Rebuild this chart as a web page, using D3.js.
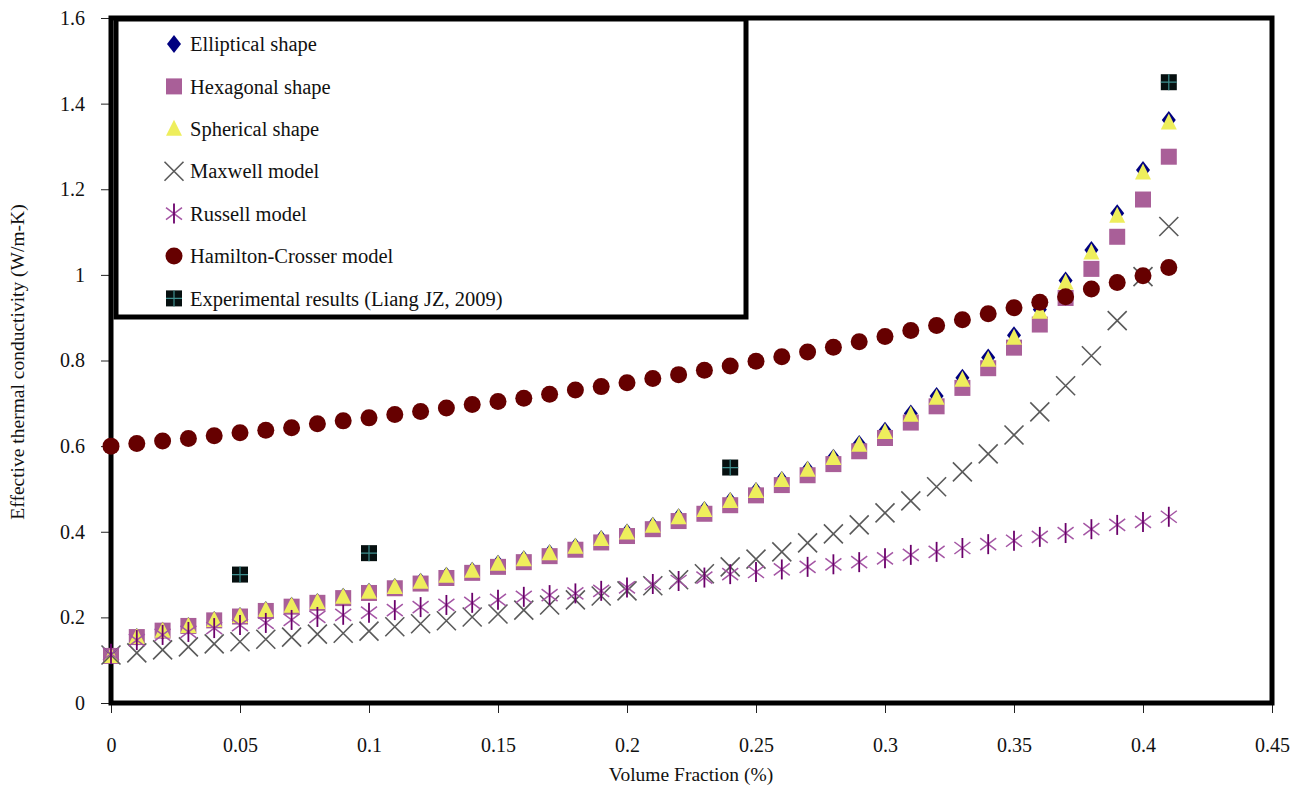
<!DOCTYPE html>
<html>
<head>
<meta charset="utf-8">
<script src="https://cdn.jsdelivr.net/npm/d3@7"></script>
<style>
  body { margin: 0; background: #fff; }
  text { font-family: "Liberation Serif", "Times New Roman", serif; }
</style>
</head>
<body>
<div id="chart"></div>
<script>
const svgWidth = 1302
const svgHeight = 796

// volume fraction
const fractions = [0, 0.01, 0.02, 0.03, 0.04, 0.05, 0.06, 0.07, 0.08, 0.09, 0.1, 0.11, 0.12, 0.13,
  0.14, 0.15, 0.16, 0.17, 0.18, 0.19, 0.2, 0.21, 0.22, 0.23, 0.24, 0.25, 0.26, 0.27, 0.28,
  0.29, 0.3, 0.31, 0.32, 0.33, 0.34, 0.35, 0.36, 0.37, 0.38, 0.39, 0.4, 0.41]

const elliptical = [0.11, 0.154, 0.169, 0.18, 0.194, 0.203, 0.217, 0.227, 0.236, 0.248, 0.26,
  0.271, 0.283, 0.297, 0.309, 0.325, 0.336, 0.35, 0.365, 0.383, 0.398, 0.414, 0.434, 0.451,
  0.472, 0.495, 0.521, 0.545, 0.573, 0.605, 0.636, 0.676, 0.717, 0.76, 0.807, 0.859, 0.919,
  0.987, 1.058, 1.144, 1.245, 1.362]
const hexagonal = [0.11, 0.154, 0.169, 0.18, 0.193, 0.202, 0.215, 0.225, 0.234, 0.245, 0.257,
  0.268, 0.279, 0.292, 0.304, 0.318, 0.329, 0.343, 0.358, 0.375, 0.39, 0.406, 0.425, 0.442,
  0.462, 0.485, 0.509, 0.532, 0.558, 0.588, 0.619, 0.655, 0.693, 0.736, 0.782, 0.83, 0.884,
  0.946, 1.014, 1.089, 1.176, 1.276]
const spherical = [0.11, 0.154, 0.169, 0.18, 0.194, 0.203, 0.217, 0.227, 0.236, 0.248, 0.26,
  0.271, 0.283, 0.297, 0.309, 0.325, 0.336, 0.35, 0.365, 0.383, 0.398, 0.414, 0.434, 0.451,
  0.472, 0.495, 0.521, 0.545, 0.572, 0.603, 0.633, 0.673, 0.713, 0.755, 0.802, 0.853, 0.914,
  0.982, 1.052, 1.138, 1.239, 1.356]
const maxwell = [0.112, 0.117, 0.124, 0.131, 0.138, 0.143, 0.149, 0.154, 0.161, 0.163, 0.168,
  0.178, 0.185, 0.192, 0.201, 0.208, 0.217, 0.229, 0.241, 0.25, 0.262, 0.274, 0.288, 0.302,
  0.318, 0.336, 0.353, 0.374, 0.395, 0.416, 0.444, 0.472, 0.505, 0.54, 0.582, 0.626, 0.68,
  0.741, 0.811, 0.893, 0.996, 1.113]
const russell = [0.115, 0.147, 0.159, 0.166, 0.175, 0.182, 0.187, 0.194, 0.201, 0.206, 0.211,
  0.217, 0.224, 0.229, 0.234, 0.241, 0.248, 0.252, 0.256, 0.262, 0.27, 0.278, 0.285, 0.293,
  0.301, 0.306, 0.312, 0.318, 0.324, 0.329, 0.338, 0.346, 0.353, 0.362, 0.371, 0.379, 0.388,
  0.397, 0.406, 0.416, 0.423, 0.435]
const hamilton = [0.6, 0.606, 0.612, 0.618, 0.624, 0.631, 0.637, 0.643, 0.652, 0.659, 0.666,
  0.674, 0.681, 0.689, 0.697, 0.704, 0.712, 0.721, 0.731, 0.739, 0.748, 0.758, 0.767, 0.777,
  0.787, 0.798, 0.809, 0.82, 0.831, 0.844, 0.856, 0.87, 0.882, 0.895, 0.909, 0.923, 0.936,
  0.949, 0.967, 0.982, 0.998, 1.017]

const expFractions = [0.05, 0.1, 0.24, 0.41]
const expValues = [0.3, 0.35, 0.55, 1.45]

const xTicks = [0, 0.05, 0.1, 0.15, 0.2, 0.25, 0.3, 0.35, 0.4, 0.45]
const yTicks = [0, 0.2, 0.4, 0.6, 0.8, 1, 1.2, 1.4, 1.6]

const legendLabels = ["Elliptical shape", "Hexagonal shape", "Spherical shape", "Maxwell model",
  "Russell model", "Hamilton-Crosser model", "Experimental results (Liang JZ, 2009)"]

let margin = { top: 18, right: 30, bottom: 93, left: 111 }
let width = svgWidth - margin.left - margin.right
let height = svgHeight - margin.top - margin.bottom

let svg = d3.select("#chart").append("svg")
  .attr("width", svgWidth)
  .attr("height", svgHeight)

let chartGroup = svg.append("g")
  .attr("transform", `translate(${margin.left}, ${margin.top})`)

let xScale = d3.scaleLinear().domain([0, 0.45]).range([0, width])
let yScale = d3.scaleLinear().domain([0, 1.6]).range([height, 0])

let fmt = d3.format("~g")

let xAxis = chartGroup.append("g")
  .attr("transform", `translate(0, ${height})`)
  .call(d3.axisBottom(xScale).tickValues(xTicks).tickFormat(fmt).tickSize(10).tickPadding(25))
let yAxis = chartGroup.append("g")
  .call(d3.axisLeft(yScale).tickValues(yTicks).tickFormat(fmt).tickSize(10).tickPadding(16))

;[xAxis, yAxis].forEach(a => {
  a.select(".domain").remove()
  a.selectAll("text").attr("font-size", 20).attr("fill", "#111")
    .style("font-family", '"Liberation Serif", serif')
  a.selectAll("line").attr("stroke", "#222")
})

// frame
chartGroup.append("rect")
  .attr("x", 0).attr("y", 0)
  .attr("width", width).attr("height", height)
  .attr("fill", "none").attr("stroke", "#000").attr("stroke-width", 5)

// marker painters
function diamond(g) {
  g.append("path").attr("d", "M0,-9L7,0L0,9L-7,0Z").attr("fill", "#000080")
}
function square(g) {
  g.append("rect").attr("x", -8).attr("y", -8).attr("width", 16).attr("height", 16)
    .attr("fill", "#A95F98")
}
function triangle(g) {
  g.append("path").attr("d", "M0,-9L8,7L-8,7Z").attr("fill", "#EEEE5C")
}
function cross(g) {
  g.append("path").attr("d", "M-9.5,-9.5L9.5,9.5M9.5,-9.5L-9.5,9.5")
    .attr("stroke", "#5a5a5a").attr("stroke-width", 1.6).attr("fill", "none")
}
function star(g) {
  g.append("path").attr("d", "M-8,-6L8,6M8,-6L-8,6")
    .attr("stroke", "#A455A4").attr("stroke-width", 1.5).attr("fill", "none")
  g.append("path").attr("d", "M0,-10L0,10")
    .attr("stroke", "#6B006B").attr("stroke-width", 1.8)
}
function dot(g) {
  g.append("circle").attr("r", 8.5).attr("fill", "#660000")
}
function expSquare(g) {
  g.append("rect").attr("x", -8).attr("y", -8).attr("width", 16).attr("height", 16)
    .attr("fill", "#061010")
  g.append("path").attr("d", "M0,-8L0,8M-8,0L8,0")
    .attr("stroke", "#3E8E8E").attr("stroke-width", 1.2)
}

const series = [
  { xs: fractions, ys: elliptical, paint: diamond },
  { xs: fractions, ys: hexagonal, paint: square },
  { xs: fractions, ys: spherical, paint: triangle },
  { xs: fractions, ys: maxwell, paint: cross },
  { xs: fractions, ys: russell, paint: star },
  { xs: fractions, ys: hamilton, paint: dot },
  { xs: expFractions, ys: expValues, paint: expSquare }
]

series.forEach(s => {
  chartGroup.append("g")
    .selectAll("g")
    .data(s.ys.map((v, i) => [s.xs[i], v]))
    .enter()
    .append("g")
    .attr("transform", d => `translate(${xScale(d[0])}, ${yScale(d[1])})`)
    .each(function() { s.paint(d3.select(this)) })
})

// legend
let legend = svg.append("g")
legend.append("rect")
  .attr("x", 116).attr("y", 19).attr("width", 630).attr("height", 298)
  .attr("fill", "#fff").attr("stroke", "#000").attr("stroke-width", 5)

legendLabels.forEach((label, i) => {
  let row = legend.append("g").attr("transform", `translate(174, ${44 + i * 42.4})`)
  series[i].paint(row)
  row.append("text")
    .attr("x", 16).attr("y", 0).attr("dy", "0.35em")
    .attr("font-size", 20.5).attr("fill", "#111")
    .text(label)
})

// axis titles
svg.append("text")
  .attr("x", 691).attr("y", 781)
  .attr("text-anchor", "middle")
  .attr("font-size", 19.5).attr("fill", "#111")
  .text("Volume Fraction (%)")

svg.append("text")
  .attr("transform", "translate(24, 362) rotate(-90)")
  .attr("text-anchor", "middle")
  .attr("font-size", 19.5).attr("fill", "#111")
  .text("Effective thermal conductivity (W/m-K)")
</script>
</body>
</html>
